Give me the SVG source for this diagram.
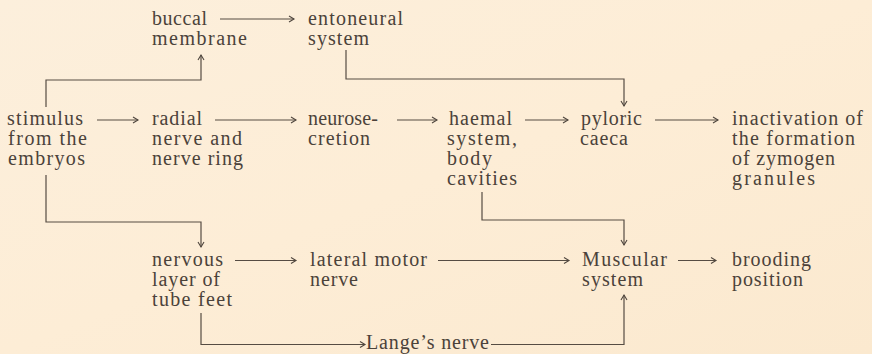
<svg xmlns="http://www.w3.org/2000/svg" width="872" height="354" viewBox="0 0 872 354">
<defs>
<linearGradient id="bg" x1="0" y1="0" x2="1" y2="1">
<stop offset="0" stop-color="#fcefdc"/>
<stop offset="0.5" stop-color="#fdedd6"/>
<stop offset="1" stop-color="#fbe9cf"/>
</linearGradient>
<marker id="ah" markerUnits="userSpaceOnUse" markerWidth="8" markerHeight="8" refX="6" refY="3" orient="auto" overflow="visible">
<path d="M1,0 L6,3 L1,6" fill="none" stroke="#4f463e" stroke-width="1.1"/>
</marker>
<style>
.t text{font-family:'Liberation Serif','Times New Roman',serif;font-size:20px;fill:#4b423a;}
.c path{fill:none;stroke:#564c43;stroke-width:1.2;}
.a{marker-end:url(#ah);}
</style>
</defs>
<rect width="872" height="354" fill="url(#bg)"/>
<g class="c" id="connectors">
<path class="a" d="M220,19 H294"/>
<path class="a" d="M97,120 H138"/>
<path class="a" d="M215,120 H296"/>
<path class="a" d="M397,120 H437"/>
<path class="a" d="M525,120 H568"/>
<path class="a" d="M655,120 H718"/>
<path class="a" d="M46,107 V80 H201 V55"/>
<path class="a" d="M346,50 V79 H624 V106"/>
<path class="a" d="M46,175 V222 H201 V247"/>
<path class="a" d="M482,192 V220 H624 V245"/>
<path class="a" d="M235,260.5 H296"/>
<path class="a" d="M438,260.5 H569"/>
<path class="a" d="M678,260.5 H716"/>
<path class="a" d="M201,313 V344.5 H365"/>
<path class="a" d="M491,344.5 H624 V295"/>
</g>
<g class="t">
<g id="buccal"><text x="152" y="25" textLength="55" lengthAdjust="spacing">buccal</text><text x="152" y="45" textLength="95" lengthAdjust="spacing">membrane</text></g>
<g id="entoneural"><text x="308" y="25" textLength="95" lengthAdjust="spacing">entoneural</text><text x="308" y="45" textLength="61" lengthAdjust="spacing">system</text></g>
<g id="stimulus"><text x="7" y="125" textLength="76" lengthAdjust="spacing">stimulus</text><text x="8" y="145" textLength="79" lengthAdjust="spacing">from the</text><text x="8" y="165" textLength="77" lengthAdjust="spacing">embryos</text></g>
<g id="radial"><text x="152" y="125" textLength="50" lengthAdjust="spacing">radial</text><text x="152" y="145" textLength="90" lengthAdjust="spacing">nerve and</text><text x="152" y="165" textLength="91" lengthAdjust="spacing">nerve ring</text></g>
<g id="neurosecretion"><text x="308" y="125" textLength="70" lengthAdjust="spacing">neurose-</text><text x="308" y="145" textLength="62" lengthAdjust="spacing">cretion</text></g>
<g id="haemal"><text x="449" y="125" textLength="63" lengthAdjust="spacing">haemal</text><text x="447" y="145" textLength="70" lengthAdjust="spacing">system,</text><text x="447" y="165" textLength="45" lengthAdjust="spacing">body</text><text x="447" y="185" textLength="70" lengthAdjust="spacing">cavities</text></g>
<g id="pyloric"><text x="581" y="125" textLength="61" lengthAdjust="spacing">pyloric</text><text x="580" y="145" textLength="48" lengthAdjust="spacing">caeca</text></g>
<g id="inactivation"><text x="732" y="125" textLength="131" lengthAdjust="spacing">inactivation of</text><text x="732" y="145" textLength="123" lengthAdjust="spacing">the formation</text><text x="732" y="165" textLength="103" lengthAdjust="spacing">of zymogen</text><text x="732" y="185" textLength="83" lengthAdjust="spacing">granules</text></g>
<g id="nervous"><text x="152" y="266" textLength="71" lengthAdjust="spacing">nervous</text><text x="152" y="286" textLength="68" lengthAdjust="spacing">layer of</text><text x="152" y="306" textLength="80" lengthAdjust="spacing">tube feet</text></g>
<g id="lateral"><text x="310" y="266" textLength="117" lengthAdjust="spacing">lateral motor</text><text x="310" y="286" textLength="48" lengthAdjust="spacing">nerve</text></g>
<g id="muscular"><text x="582" y="266" textLength="85" lengthAdjust="spacing">Muscular</text><text x="582" y="286" textLength="61" lengthAdjust="spacing">system</text></g>
<g id="brooding"><text x="732" y="266" textLength="79" lengthAdjust="spacing">brooding</text><text x="732" y="286" textLength="71" lengthAdjust="spacing">position</text></g>
<g id="lange"><text x="366" y="349" textLength="123" lengthAdjust="spacing">Lange’s nerve</text></g>
</g>
</svg>
